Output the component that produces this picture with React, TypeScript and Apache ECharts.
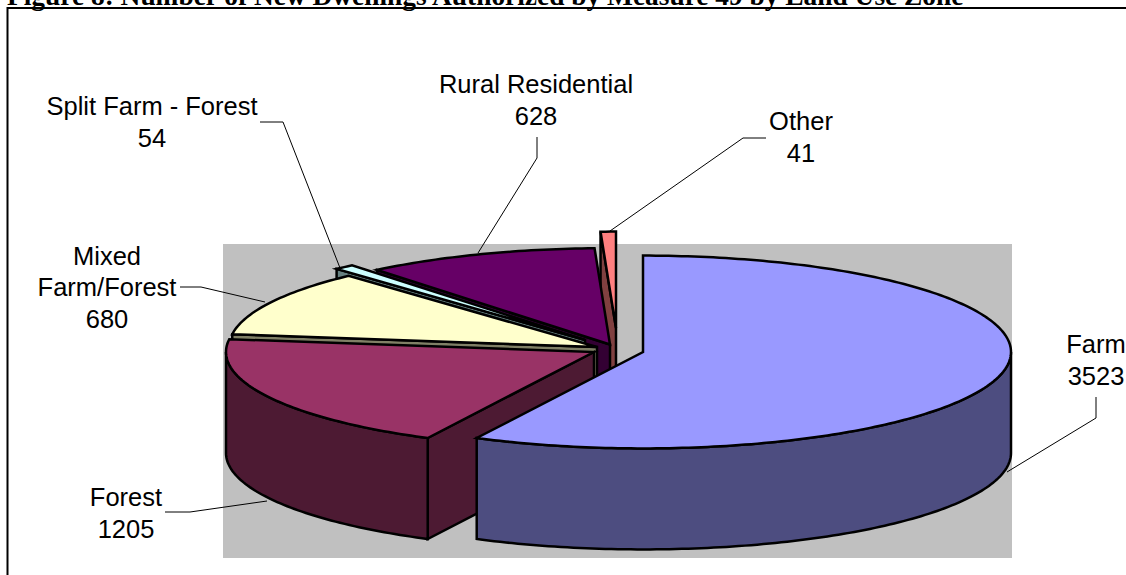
import React, { useEffect, useRef } from "react";
import * as echarts from "echarts";

// Data, in the order the pie runs clockwise from twelve o'clock
const categories = ["Farm", "Forest", "Mixed\nFarm/Forest", "Split Farm - Forest", "Rural Residential", "Other"];
const values = [3523, 1205, 680, 54, 628, 41];
const titleText = "Figure 8: Number of New Dwellings Authorized by Measure 49 by Land Use Zone";

// Styles
const topColors = ["#9999FF", "#993366", "#FFFFCC", "#CCFFFF", "#660066", "#FF8080"];
const sideColors = ["#4D4D80", "#4D1A33", "#808066", "#668080", "#330033", "#804040"];

// Layout of the exploded pie
const apexX = [643, 594, 597, 585, 610, 616];
const apexY = [352, 352, 347, 340, 344.5, 328];
const RX = 368;
const RY = 96.4;
const DEPTH = 101;

const labelX = [1096, 126, 107, 152, 536, 801];
const labelY = [360, 513, 287, 122, 100, 137];
const leaders = [
  [[1096, 397], [1096, 418], [1007, 472]],
  [[165, 512], [190, 512], [267, 501]],
  [[180, 287], [201, 287], [265, 302]],
  [[260, 122], [283, 122], [340, 268]],
  [[537, 137], [537, 158], [478, 253]],
  [[766, 138], [743, 138], [610, 231]],
];

const total = values.reduce((a, b) => a + b, 0);
const sweeps = values.map((v) => (v / total) * 360);
const starts = sweeps.map((_, i) => sweeps.slice(0, i).reduce((a, b) => a + b, 0));
// Painted far to near, so the order is reversed
const seriesData = values.map((v, i) => [v, starts[i], sweeps[i], i]).reverse();

const rad = (d: number) => (d * Math.PI) / 180;

function renderItem(_params: any, api: any) {
  const start = api.value(1);
  const sweep = api.value(2);
  const i = api.value(3);
  const end = start + sweep;
  const cx = apexX[i];
  const cy = apexY[i];
  const pt = (deg: number, dy = 0) => [cx + RX * Math.sin(rad(deg)), cy - RY * Math.cos(rad(deg)) + dy];
  const arc = (a: number, b: number, dy = 0) => {
    const n = Math.max(2, Math.ceil(Math.abs(b - a)));
    const out: number[][] = [];
    for (let k = 0; k <= n; k++) out.push(pt(a + ((b - a) * k) / n, dy));
    return out;
  };
  const base = { stroke: "#000", lineWidth: 2.5, lineJoin: "miter", miterLimit: 4 };
  const children: any[] = [];
  const face = (points: number[][], fill: string) =>
    children.push({ type: "polygon", shape: { points }, style: { ...base, fill } });

  // radial wall at the start of the slice, when it faces the viewer
  if (Math.sin(rad(start)) < -1e-6) {
    face([pt(start), [cx, cy], [cx, cy + DEPTH], pt(start, DEPTH)], sideColors[i]);
  }
  // radial wall at the end of the slice, when it faces the viewer
  if (Math.sin(rad(end)) > 1e-6) {
    face([pt(end), [cx, cy], [cx, cy + DEPTH], pt(end, DEPTH)], sideColors[i]);
  }
  // outer rim on the front half of the ellipse
  const a = Math.max(start, 90);
  const b = Math.min(end, 270);
  if (b > a) {
    face([...arc(a, b), ...arc(b, a, DEPTH)], sideColors[i]);
  }
  // top face
  face([[cx, cy], ...arc(start, end)], topColors[i]);
  return { type: "group", children };
}

const labelElements = categories.map((name, i) => ({
  type: "text",
  x: labelX[i],
  y: labelY[i],
  style: {
    text: `${name}\n${values[i]}`,
    fill: "#000",
    font: '25.5px "Liberation Sans", Arial, sans-serif',
    lineHeight: 31.5,
    align: "center",
    verticalAlign: "middle",
  },
}));

const leaderElements = leaders.map((points) => ({
  type: "polyline",
  shape: { points },
  style: { stroke: "#000", lineWidth: 1, fill: "none" },
}));

export default function App() {
  const ref = useRef<HTMLDivElement>(null);
  useEffect(() => {
    const chart = echarts.init(ref.current!, null, { renderer: "svg" });
    chart.setOption({
      animation: false,
      backgroundColor: "#fff",
      graphic: {
        elements: [
          { type: "rect", shape: { x: 223, y: 244, width: 789, height: 314 }, style: { fill: "#C0C0C0" } },
          {
            type: "text",
            x: 7,
            y: 9,
            style: {
              text: titleText,
              fill: "#000",
              font: 'bold 27.4px "Liberation Serif", "Times New Roman", serif',
              align: "left",
              verticalAlign: "bottom",
            },
          },
          { type: "polyline", shape: { points: [[7.5, 575], [7.5, 8], [1126, 8]] }, style: { stroke: "#000", lineWidth: 2, fill: "none" } },
          ...leaderElements,
          ...labelElements,
        ],
      },
      series: [
        {
          type: "custom",
          coordinateSystem: "none",
          silent: true,
          renderItem,
          data: seriesData,
        },
      ],
    });
    return () => chart.dispose();
  }, []);
  return <div ref={ref} style={{ position: "fixed", left: 0, top: 0, width: 1126, height: 575 }} />;
}
